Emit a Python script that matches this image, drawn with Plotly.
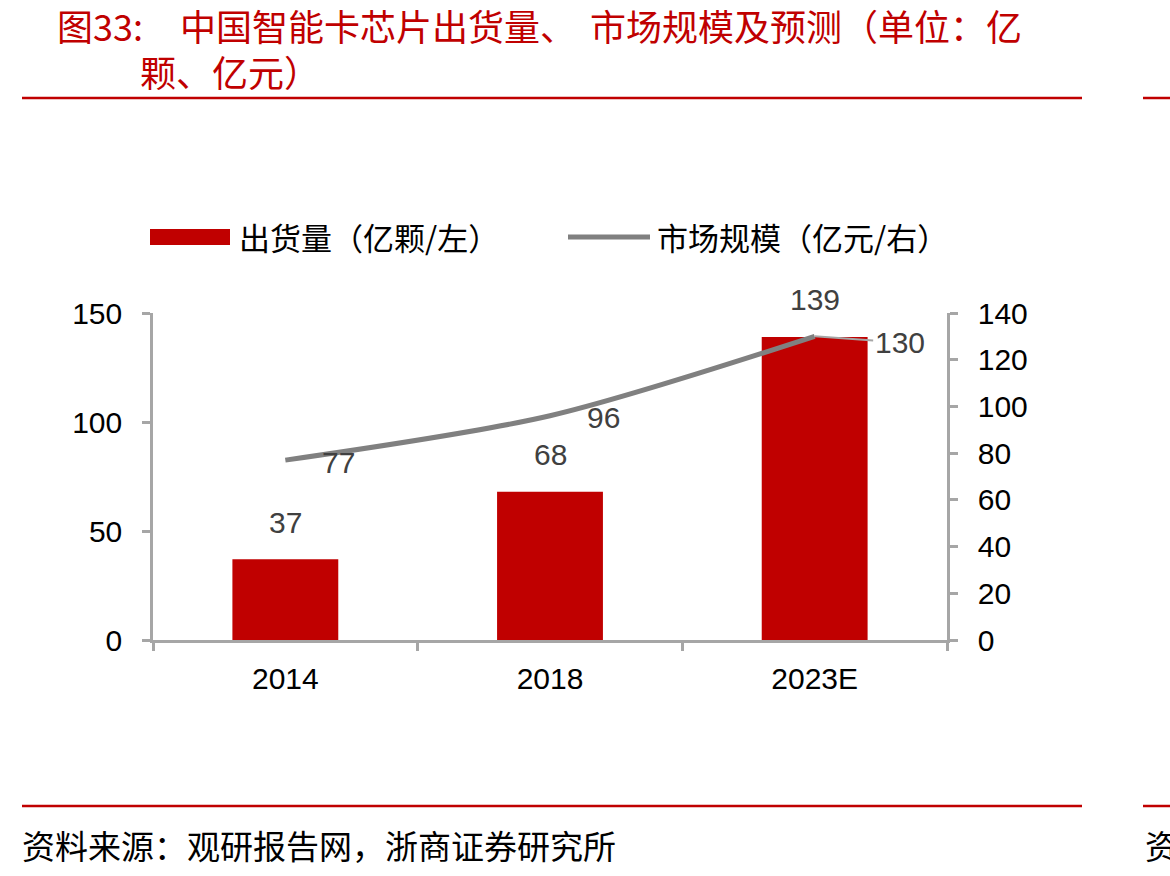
import plotly.graph_objects as go

# ---- data ----
categories = ["2014", "2018", "2023E"]
shipments = [37, 68, 139]          # 出货量 (亿颗, left axis)
market_size = [77, 96, 130]        # 市场规模 (亿元, right axis)
left_ticks = [0, 50, 100, 150]
right_ticks = [0, 20, 40, 60, 80, 100, 120, 140]

RED = "#C00000"
GRAY_LINE = "#808080"
AXIS_GRAY = "#A6A6A6"
LABEL = "#404040"
LATIN = "Liberation Sans, Arial, sans-serif"
CJK = "Noto Sans CJK SC, sans-serif"

W, H = 1170, 876
L, R, T, B = 153, 947, 313, 640  # plot area in pixels


def px(x):
    return (x - L) / (R - L)


def py(y):
    return (B - y) / (B - T)


fig = go.Figure()
fig.add_trace(go.Bar(
    x=categories, y=shipments, width=0.4, marker=dict(color=RED, line=dict(width=0)),
    name="出货量（亿颗/左）", yaxis="y", hoverinfo="skip"))
fig.add_trace(go.Scatter(
    x=categories, y=market_size, mode="lines", yaxis="y2",
    line=dict(color=GRAY_LINE, width=5, shape="spline", smoothing=0.8),
    name="市场规模（亿元/右）", hoverinfo="skip"))

annotations = []
# bar labels (x given as category index on the category axis)
for i, v in enumerate(shipments):
    annotations.append(dict(x=i, y=v, xref="x", yref="y", text=str(v), showarrow=False,
                            yshift=37, font=dict(family=LATIN, size=30, color=LABEL)))
# line labels
n = len(categories)
for i, v in enumerate(market_size):
    if i < n - 1:
        annotations.append(dict(x=i, y=v, xref="x", yref="y2", text=str(v), showarrow=False,
                                xshift=53, yshift=-2, font=dict(family=LATIN, size=30, color=LABEL)))
    else:
        annotations.append(dict(x=i, y=v, xref="x", yref="y2", text=str(v), showarrow=True,
                                ax=85, ay=6, arrowhead=0, arrowwidth=2, arrowcolor=AXIS_GRAY,
                                standoff=0, font=dict(family=LATIN, size=30, color=LABEL)))

# title
title_font = dict(family=CJK, size=36, color=RED)
for xpos, ypos, txt in [(55, 25, "图33:"),
                        (178, 25, "中国智能卡芯片出货量、"),
                        (588, 25, "市场规模及预测（单位：亿"),
                        (138, 71, "颗、亿元）")]:
    annotations.append(dict(x=px(xpos), y=py(ypos), xref="paper", yref="paper", xanchor="left",
                            yanchor="middle", text=txt, showarrow=False, font=title_font))

annotations += [
    # legend texts
    dict(x=px(237), y=py(237), xref="paper", yref="paper", xanchor="left", yanchor="middle",
         text="出货量（亿颗/左）", showarrow=False, font=dict(family=CJK, size=31, color="#000000")),
    dict(x=px(655), y=py(237), xref="paper", yref="paper", xanchor="left", yanchor="middle",
         text="市场规模（亿元/右）", showarrow=False, font=dict(family=CJK, size=31, color="#000000")),
    # source
    dict(x=px(20), y=py(845), xref="paper", yref="paper", xanchor="left", yanchor="middle",
         text="资料来源：观研报告网，浙商证券研究所", showarrow=False,
         font=dict(family=CJK, size=33, color="#000000")),
    dict(x=px(1143), y=py(845), xref="paper", yref="paper", xanchor="left", yanchor="middle",
         text="资", showarrow=False, font=dict(family=CJK, size=33, color="#000000")),
]

shapes = [
    # top red rules
    dict(type="line", xref="paper", yref="paper", x0=px(22), x1=px(1082), y0=py(98), y1=py(98),
         line=dict(color=RED, width=2.5)),
    dict(type="line", xref="paper", yref="paper", x0=px(1143), x1=px(1175), y0=py(98), y1=py(98),
         line=dict(color=RED, width=2.5)),
    # bottom red rules
    dict(type="line", xref="paper", yref="paper", x0=px(22), x1=px(1082), y0=py(806), y1=py(806),
         line=dict(color=RED, width=2.5)),
    dict(type="line", xref="paper", yref="paper", x0=px(1143), x1=px(1175), y0=py(806), y1=py(806),
         line=dict(color=RED, width=2.5)),
    # legend symbols
    dict(type="rect", xref="paper", yref="paper", x0=px(150), x1=px(230), y0=py(245), y1=py(229),
         fillcolor=RED, line=dict(width=0)),
    dict(type="line", xref="paper", yref="paper", x0=px(568), x1=px(650), y0=py(237), y1=py(237),
         line=dict(color=GRAY_LINE, width=5)),
]

axis_common = dict(showline=True, linecolor=AXIS_GRAY, linewidth=2.5, ticks="outside",
                   ticklen=8, tickwidth=2.5, tickcolor=AXIS_GRAY, showgrid=False, zeroline=False,
                   tickfont=dict(family=LATIN, size=30, color="#000000"))

fig.update_layout(
    width=W, height=H, autosize=False,
    margin=dict(l=L, r=W - R, t=T, b=H - B, pad=0),
    paper_bgcolor="white", plot_bgcolor="white",
    showlegend=False, bargap=0.6,
    xaxis=dict(type="category", categoryorder="array", categoryarray=categories,
               range=[-0.5, n - 0.5], autorange=False, tickangle=0,
               tickson="boundaries", ticklabelstandoff=10, **axis_common),
    yaxis=dict(range=[0, 150], tickvals=left_ticks, ticklabelstandoff=14, **axis_common),
    yaxis2=dict(range=[0, 140], tickvals=right_ticks, overlaying="y", side="right",
                ticklabelstandoff=14, **axis_common),
    annotations=annotations, shapes=shapes,
)

fig.write_html("out.html")
